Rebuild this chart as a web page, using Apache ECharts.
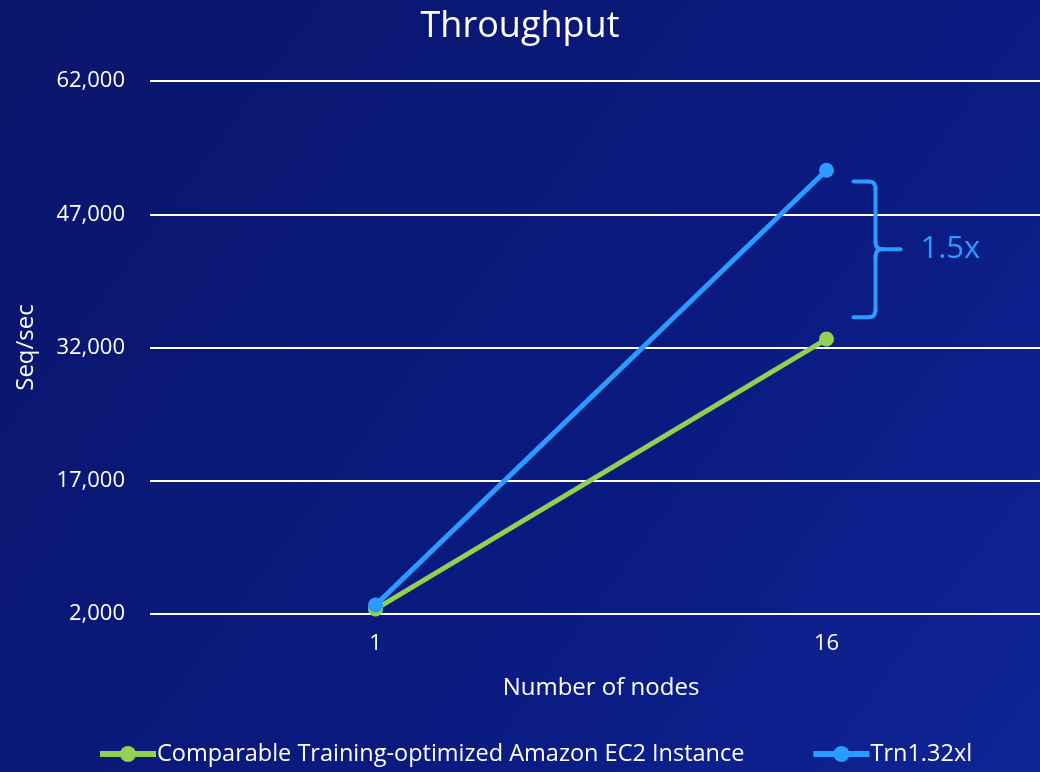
<!DOCTYPE html>
<html><head><meta charset="utf-8">
<script src="https://cdn.jsdelivr.net/npm/echarts@6/dist/echarts.min.js"></script>
<style>html,body{margin:0;padding:0;background:#0a176e;}#c{width:1040px;height:772px;}</style>
</head><body><div id="c"></div>
<script>
const categories = ['1', '16'];
const ec2Values = [2560, 32950];
const trnValues = [3000, 51950];
const seriesNames = ['Comparable Training-optimized Amazon EC2 Instance', 'Trn1.32xl'];
const yTicks = { min: 2000, max: 62000, interval: 15000 };
const braceRange = [50700, 35400];
const braceLabel = '1.5x';

const FONT = '"Open Sans", "Noto Sans", sans-serif';
const GREEN = '#92d050', BLUE = '#2b9cff';
const chart = echarts.init(document.getElementById('c'));
chart.setOption({
  backgroundColor: new echarts.graphic.LinearGradient(0, 0, 1, 1, [
    { offset: 0, color: '#0a166b' },
    { offset: 0.6, color: '#0a1a80' },
    { offset: 1, color: '#0f2596' }
  ]),
  title: { text: 'Throughput', left: 'center', top: 4, textStyle: { color: '#fff', fontSize: 36, fontWeight: 'normal', fontFamily: FONT } },
  grid: { left: 150, width: 902, top: 81, bottom: 158, containLabel: false, outerBoundsMode: 'none' },
  legend: {
    top: 742, left: 97, padding: 0, itemWidth: 56, itemHeight: 20, itemGap: 66,
    lineStyle: { width: 6 },
    textStyle: { color: '#fff', fontSize: 23.5, fontFamily: FONT, padding: [0, 0, 0, -4] },
    data: seriesNames
  },
  xAxis: {
    type: 'category', data: categories,
    name: 'Number of nodes', nameLocation: 'middle', nameGap: 62,
    nameTextStyle: { color: '#fff', fontSize: 24, fontFamily: FONT },
    axisLine: { show: false }, axisTick: { show: false },
    axisLabel: { color: '#fff', fontSize: 22, fontFamily: FONT, margin: 19 }
  },
  yAxis: {
    type: 'value', min: yTicks.min, max: yTicks.max, interval: yTicks.interval,
    name: 'Seq/sec', nameLocation: 'middle', nameGap: 112,
    nameTextStyle: { color: '#fff', fontSize: 24, fontFamily: FONT },
    axisLine: { show: false }, axisTick: { show: false },
    axisLabel: { color: '#fff', fontSize: 22, fontFamily: FONT, margin: 25,
      formatter: v => v.toLocaleString('en-US') },
    splitLine: { lineStyle: { color: '#ffffff', width: 2 } }
  },
  series: [
    { name: seriesNames[0], type: 'line', data: ec2Values, symbol: 'circle', symbolSize: 15,
      lineStyle: { color: GREEN, width: 5 }, itemStyle: { color: GREEN }, color: GREEN },
    { name: seriesNames[1], type: 'line', data: trnValues, symbol: 'circle', symbolSize: 15,
      lineStyle: { color: BLUE, width: 5 }, itemStyle: { color: BLUE }, color: BLUE }
  ]
});

function drawBrace() {
  const x0 = chart.convertToPixel({ xAxisIndex: 0 }, categories[1]) + 27;
  const yT = chart.convertToPixel({ yAxisIndex: 0 }, braceRange[0]);
  const yB = chart.convertToPixel({ yAxisIndex: 0 }, braceRange[1]);
  const ym = (yT + yB) / 2;
  const xv = x0 + 22, xt = x0 + 47, r = 7;
  const st = { stroke: BLUE, lineWidth: 4, lineCap: 'round', fill: null };
  const L = (x1, y1, x2, y2) => ({ type: 'line', shape: { x1, y1, x2, y2 }, style: st });
  const B = (x1, y1, cx, cy, x2, y2) => ({ type: 'bezierCurve', shape: { x1, y1, x2, y2, cpx1: cx, cpy1: cy }, style: st });
  chart.setOption({
    graphic: [
      L(x0, yT, xv - r, yT),
      B(xv - r, yT, xv, yT, xv, yT + r),
      L(xv, yT + r, xv, ym - r),
      B(xv, ym - r, xv, ym, xv + r, ym),
      L(xv + r, ym, xt, ym),
      B(xv + r, ym, xv, ym, xv, ym + r),
      L(xv, ym + r, xv, yB - r),
      B(xv, yB - r, xv, yB, xv - r, yB),
      L(xv - r, yB, x0, yB),
      { type: 'text', x: xt + 20, y: ym, style: { text: braceLabel, fill: BLUE, fontSize: 31, fontFamily: FONT, verticalAlign: 'middle' } }
    ]
  });
}
drawBrace();
</script></body></html>
